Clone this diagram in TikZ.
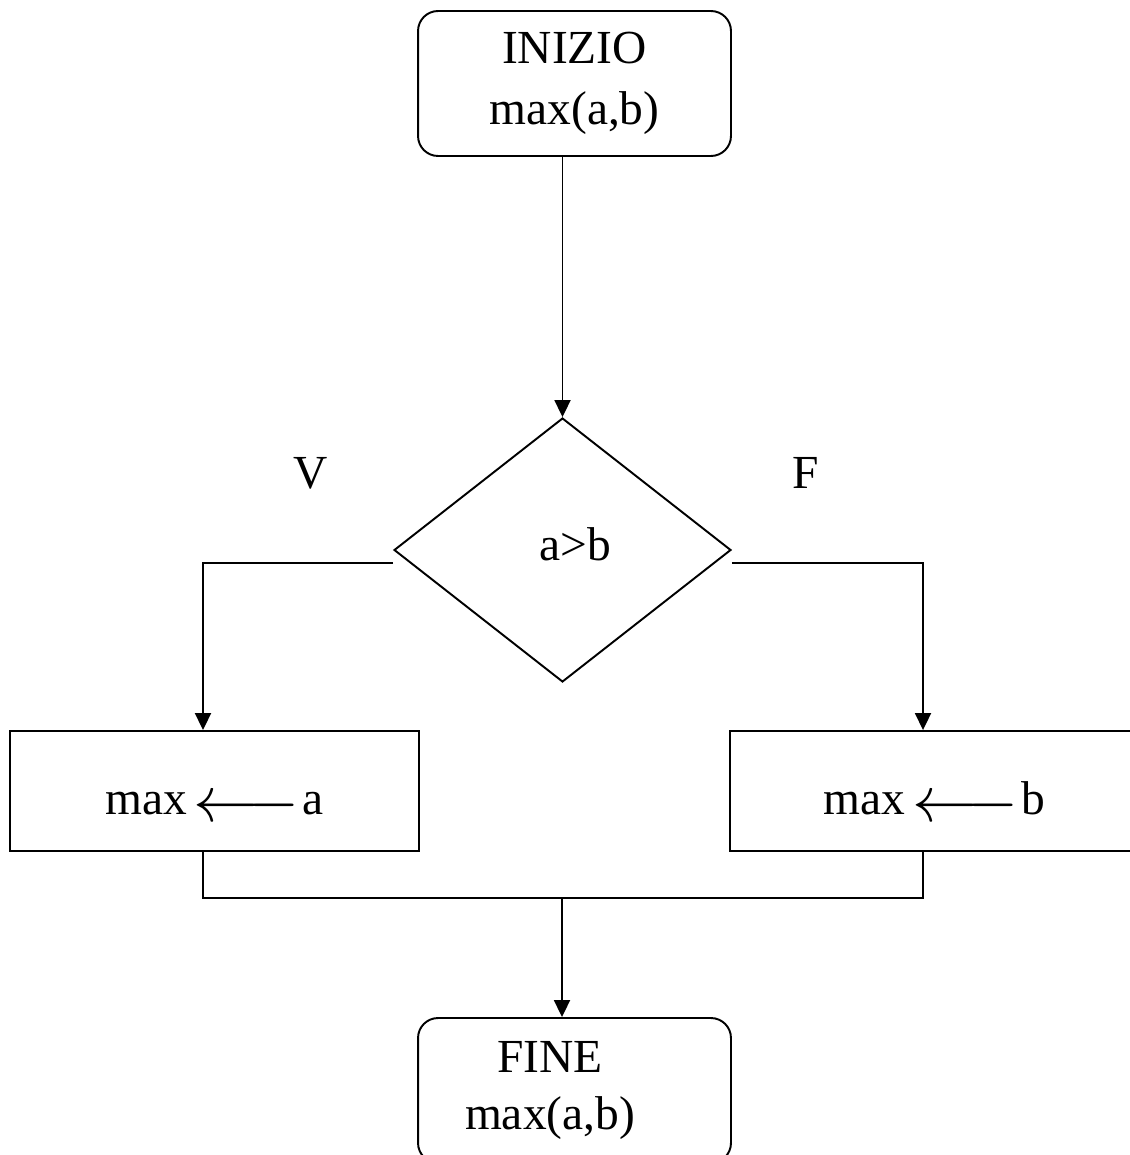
\documentclass[tikz,border=0pt]{standalone}
\usepackage{fontspec}
\setmainfont{Liberation Serif}
\usepackage{graphicx}
\usetikzlibrary{shapes.geometric,arrows.meta,calc}

% long assignment arrow used inside the process boxes
\newcommand{\assignarrow}{\raisebox{-0.14cm}{\scalebox{1.5}[1.48]{$\longleftarrow$}}}

\begin{document}
\begin{tikzpicture}[
  x=0.02cm, y=-0.02cm,
  line width=1.1pt,
  every node/.style={font=\fontsize{27}{35}\selectfont},
  terminal/.style={draw, rounded corners=0.4cm, minimum width=6.26cm,
                   minimum height=2.9cm, inner sep=0pt, align=center},
  decision/.style={draw, diamond, minimum width=6.74cm, minimum height=5.28cm,
                   inner sep=0pt, text height=0.4cm, text depth=0pt},
  process/.style={draw, rectangle, minimum width=8.18cm, minimum height=2.4cm,
                  inner sep=0pt, text height=0.92cm, text depth=0pt},
  flow/.style={-{Triangle[width=0.32cm,length=0.34cm]}},
  branch/.style={font=\fontsize{27}{35}\selectfont, anchor=base}
]
\useasboundingbox (0,0) rectangle (1129,1155);

% start / end terminals
\node[terminal] (start) at (574.5,83.5) {INIZIO\\max(a,b)};
\node[terminal, font=\fontsize{27}{32}\selectfont] (fin) at (574.5,1090.5)
  {FINE\hspace*{0.98cm}\\max(a,b)\hspace*{0.98cm}};

% test
\node[decision] (cond) at (562.5,550) {\hspace*{0.5cm}a>b};
\node[branch] (lblV) at (311,488) {V};
\node[branch] (lblF) at (806,488) {F};

% assignments
\node[process] (seta) at (214.5,791) {max\hspace{0.14cm}\assignarrow\hspace{0.06cm}a};
\node[process] (setb) at (934.5,791) {max\hspace{0.14cm}\assignarrow\hspace{0.06cm}b};

\coordinate (join) at (562,898);

% connectors
\draw[flow] (cond.north |- start.south) -- (cond.north);
\draw[flow] ([yshift=-0.26cm]cond.west) -| ([xshift=-0.23cm]seta.north);
\draw[flow] ([yshift=-0.26cm]cond.east) -| ([xshift=-0.23cm]setb.north);
\draw ([xshift=-0.23cm]seta.south) |- (join) -| ([xshift=-0.23cm]setb.south);
\draw[flow] (join) -- (join |- fin.north);
\end{tikzpicture}
\end{document}
